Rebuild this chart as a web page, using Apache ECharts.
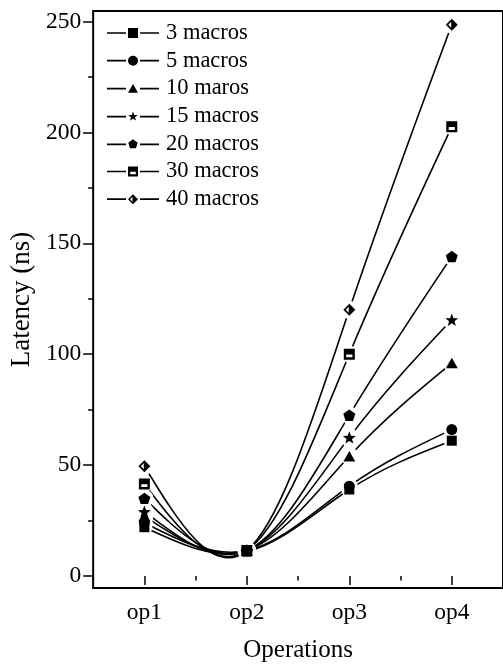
<!DOCTYPE html>
<html>
<head>
<meta charset="utf-8">
<script src="https://cdn.jsdelivr.net/npm/echarts@6/dist/echarts.min.js"></script>
<style>
html,body{margin:0;padding:0;background:#fff;}
#chart{width:503px;height:668px;}
</style>
</head>
<body>
<div id="chart"></div>
<script>
// ---- data ----
const categories = ['op1', 'op2', 'op3', 'op4'];
const seriesNames = ['3 macros', '5 macros', '10 maros', '15 macros', '20 macros', '30 macros', '40 macros'];
const macros3 = [22, 11, 39, 61];
const macros5 = [24, 11.5, 40.5, 66];
const macros10 = [27, 11.5, 54, 96];
const macros15 = [29, 11.5, 62.5, 115.5];
const macros20 = [35, 11.5, 72.5, 144];
const macros30 = [41.5, 11.5, 100, 202.5];
const macros40 = [49.5, 11.5, 120, 248.5];
const yMajorTicks = [0, 50, 100, 150, 200, 250];
const yMinorTicks = [25, 75, 125, 175, 225];

const seriesValues = [macros3, macros5, macros10, macros15, macros20, macros30, macros40];
const shapeKinds = ['square', 'circle', 'triangle', 'star', 'pentagon', 'halfsq', 'halfdia'];
const markerSizes = [10, 11, 12, 13, 12, 11, 12];

function f(v){ return (Math.round(v * 1000) / 1000).toString(); }
function poly(pts){ return 'M' + pts.map(p => f(p[0]) + ' ' + f(p[1])).join(' L') + ' Z'; }
function shape(kind, cx, cy, s){
  const h = s / 2;
  if (kind === 'square') return poly([[cx-h,cy-h],[cx+h,cy-h],[cx+h,cy+h],[cx-h,cy+h]]);
  if (kind === 'circle') return 'M' + f(cx-h) + ' ' + f(cy) + ' A' + f(h) + ' ' + f(h) + ' 0 1 1 ' + f(cx+h) + ' ' + f(cy) +
      ' A' + f(h) + ' ' + f(h) + ' 0 1 1 ' + f(cx-h) + ' ' + f(cy) + ' Z';
  if (kind === 'triangle') return poly([[cx, cy-0.45*s],[cx+0.5*s, cy+0.42*s],[cx-0.5*s, cy+0.42*s]]);
  if (kind === 'star' || kind === 'pentagon') {
    const pts = [];
    const n = kind === 'star' ? 10 : 5;
    for (let i = 0; i < n; i++) {
      const a = -Math.PI / 2 + i * 2 * Math.PI / n;
      const r = (kind === 'star' && i % 2 === 1) ? h * 0.42 : h;
      pts.push([cx + r * Math.cos(a), cy + r * Math.sin(a)]);
    }
    return poly(pts);
  }
  if (kind === 'halfsq') {
    const outer = poly([[cx-h,cy-h],[cx+h,cy-h],[cx+h,cy+h],[cx-h,cy+h]]);
    const hole = poly([[cx-0.56*h,cy+0.04*h],[cx-0.56*h,cy+0.56*h],[cx+0.56*h,cy+0.56*h],[cx+0.56*h,cy+0.04*h]]);
    return outer + ' ' + hole;
  }
  if (kind === 'halfdia') {
    const outer = poly([[cx,cy-h],[cx+h,cy],[cx,cy+h],[cx-h,cy]]);
    const hole = poly([[cx-0.1*h,cy-0.5*h],[cx-0.58*h,cy],[cx-0.1*h,cy+0.5*h]]);
    return outer + ' ' + hole;
  }
}
function legendIcon(kind){
  const W = 52, H = 10, cy = H / 2;
  const left = poly([[0,cy-0.85],[19,cy-0.85],[19,cy+0.85],[0,cy+0.85]]);
  const right = poly([[33,cy-0.85],[W,cy-0.85],[W,cy+0.85],[33,cy+0.85]]);
  return 'path://' + left + ' ' + shape(kind, 26, cy, 10) + ' ' + right;
}

// natural cubic spline through pixel points (uniform x spacing), as Bezier path
function splinePath(pts){
  const n = pts.length;
  const h = pts[1][0] - pts[0][0];
  const y = pts.map(p => p[1]);
  const M = new Array(n).fill(0);
  if (n > 2) {
    const m = n - 2, a = [], b = [], c = [], d = [];
    for (let i = 1; i <= m; i++) {
      a.push(1); b.push(4); c.push(1);
      d.push(6 * (y[i-1] - 2 * y[i] + y[i+1]) / (h * h));
    }
    for (let i = 1; i < m; i++) {
      const w = a[i] / b[i-1];
      b[i] -= w * c[i-1];
      d[i] -= w * d[i-1];
    }
    const sol = new Array(m);
    sol[m-1] = d[m-1] / b[m-1];
    for (let i = m - 2; i >= 0; i--) sol[i] = (d[i] - c[i] * sol[i+1]) / b[i];
    for (let i = 0; i < m; i++) M[i+1] = sol[i];
  }
  const der = [];
  for (let i = 0; i < n - 1; i++) der.push((y[i+1] - y[i]) / h - h * (2 * M[i] + M[i+1]) / 6);
  der.push((y[n-1] - y[n-2]) / h + h * (M[n-2] + 2 * M[n-1]) / 6);
  let s = 'M' + f(pts[0][0]) + ' ' + f(pts[0][1]);
  for (let i = 0; i < n - 1; i++) {
    const dx = pts[i+1][0] - pts[i][0];
    s += ' C' + f(pts[i][0] + dx / 3) + ' ' + f(pts[i][1] + der[i] * dx / 3) + ' ' +
         f(pts[i+1][0] - dx / 3) + ' ' + f(pts[i+1][1] - der[i+1] * dx / 3) + ' ' +
         f(pts[i+1][0]) + ' ' + f(pts[i+1][1]);
  }
  return s;
}

const FONT = 'Liberation Serif';
const series = [];
seriesNames.forEach((name, i) => {
  series.push({
    name: 'curve' + i, type: 'custom', coordinateSystem: 'cartesian2d', xAxisIndex: 0, yAxisIndex: 0,
    data: [0], z: 2, silent: true, itemStyle: {color: '#000'},
    renderItem: function(params, api){
      const pts = seriesValues[i].map((v, j) => api.coord([j, v]));
      return {type: 'path', shape: {pathData: splinePath(pts)},
              style: {fill: 'none', stroke: '#000', lineWidth: 1.6}};
    }
  });
});
seriesNames.forEach((name, i) => {
  series.push({
    name: 'halo' + i, type: 'line', data: seriesValues[i],
    symbol: 'circle', symbolSize: markerSizes[i] + 6, showSymbol: true, showAllSymbol: true,
    itemStyle: {color: '#fff', borderWidth: 0}, lineStyle: {opacity: 0, width: 0}, z: 3, silent: true
  });
});
seriesNames.forEach((name, i) => {
  series.push({
    name: name, type: 'line', data: seriesValues[i], color: '#000',
    symbol: 'path://' + shape(shapeKinds[i], 0, 0, 10), symbolKeepAspect: true,
    symbolSize: markerSizes[i], showSymbol: true, showAllSymbol: true,
    itemStyle: {color: '#000', borderWidth: 0}, lineStyle: {opacity: 0, width: 0}, z: 4, silent: true
  });
});

const chart = echarts.init(document.getElementById('chart'), null, {renderer: 'canvas'});
chart.setOption({
  animation: false,
  backgroundColor: '#fff',
  textStyle: {fontFamily: FONT, color: '#000'},
  grid: {left: 92, right: -3, top: 11, bottom: 76, show: true, borderColor: '#000', borderWidth: 2, backgroundColor: 'transparent'},
  legend: {
    orient: 'vertical', left: 107, top: 21.5, padding: 0, itemGap: 4.7,
    itemWidth: 52, itemHeight: 10, symbolKeepAspect: true,
    itemStyle: {borderWidth: 0},
    textStyle: {fontFamily: FONT, fontSize: 22.5, color: '#000', lineHeight: 22, padding: [0, 0, 0, 2]},
    data: seriesNames.map((n, i) => ({name: n, icon: legendIcon(shapeKinds[i])})),
    selectedMode: false
  },
  xAxis: [{
    type: 'category', data: categories, boundaryGap: true, position: 'bottom',
    axisLine: {show: false},
    axisTick: {show: true, alignWithLabel: true, length: 9, lineStyle: {color: '#000', width: 1.5}},
    axisLabel: {margin: 13, fontFamily: FONT, fontSize: 23.5, color: '#000'},
    splitLine: {show: false},
    name: 'Operations', nameLocation: 'middle', nameGap: 50,
    nameTextStyle: {fontFamily: FONT, fontSize: 25, color: '#000'}
  }, {
    type: 'category', data: categories, boundaryGap: true, position: 'bottom',
    axisLine: {show: false},
    axisTick: {show: true, alignWithLabel: false, length: 4.5, lineStyle: {color: '#000', width: 1.5}},
    axisLabel: {show: false}, splitLine: {show: false}
  }],
  yAxis: [{
    type: 'value', min: -5.4, max: 254.7, position: 'left',
    axisLine: {show: false},
    axisTick: {show: true, customValues: yMajorTicks, length: 10, lineStyle: {color: '#000', width: 1.5}},
    axisLabel: {customValues: yMajorTicks, margin: 12, fontFamily: FONT, fontSize: 23.5, color: '#000'},
    splitLine: {show: false},
    name: 'Latency (ns)', nameLocation: 'middle', nameGap: 55,
    nameTextStyle: {fontFamily: FONT, fontSize: 27, color: '#000'}
  }, {
    type: 'value', min: -5.4, max: 254.7, position: 'left',
    axisLine: {show: false},
    axisTick: {show: true, customValues: yMinorTicks, length: 5, lineStyle: {color: '#000', width: 1.5}},
    axisLabel: {show: false}, splitLine: {show: false}
  }],
  series: series
});
</script>
</body>
</html>
